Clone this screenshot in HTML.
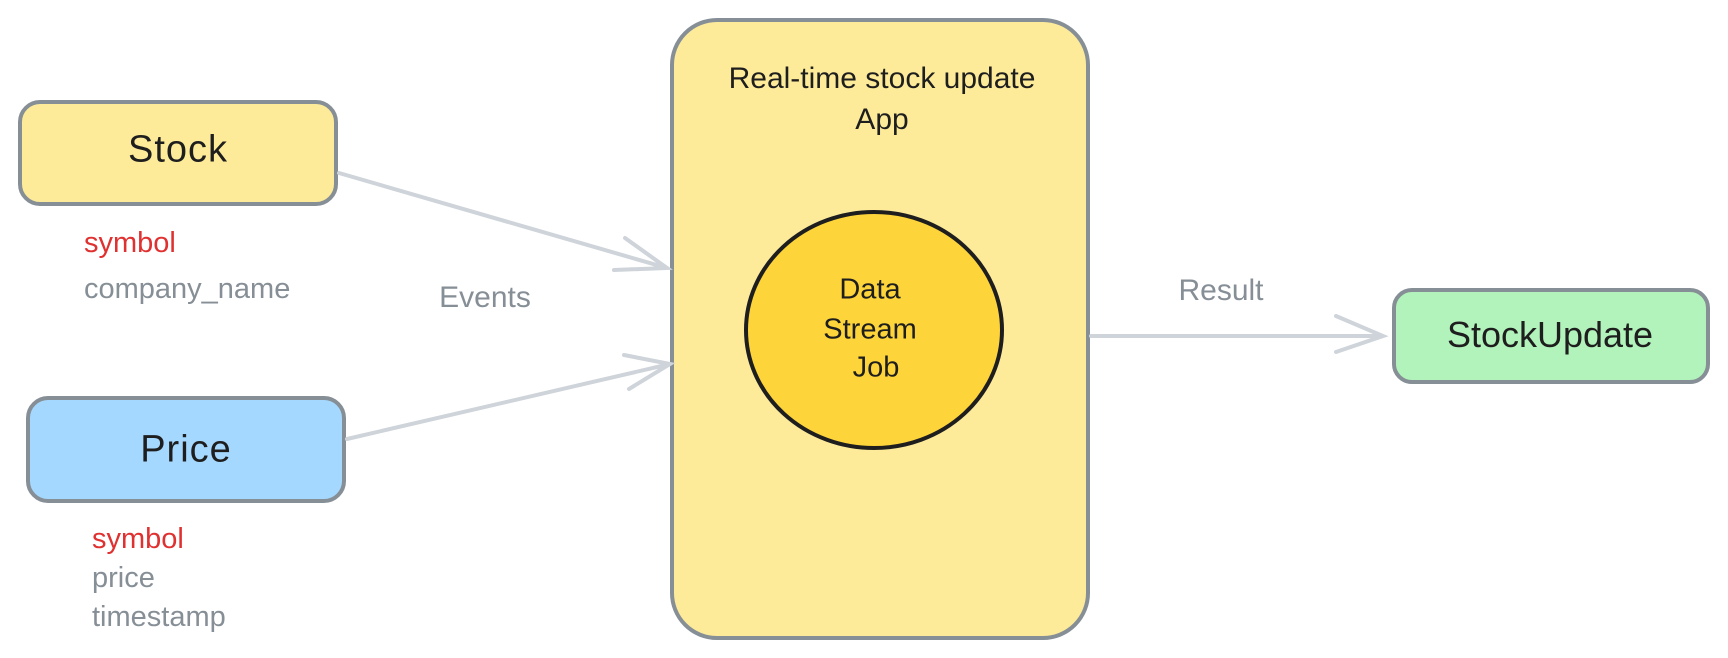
<!DOCTYPE html>
<html><head><style>
body{margin:0;width:1728px;height:658px;background:#fff;overflow:hidden;font-family:"Liberation Sans",sans-serif;}
.t{position:absolute;white-space:nowrap;transform:translate(-50%,-50%);}
</style></head><body>
<svg width="1728" height="658" style="position:absolute;left:0;top:0">
<rect x="20" y="102" width="316" height="102" rx="20" fill="#fdeb9a" stroke="#868e96" stroke-width="4"/>
<rect x="28" y="398" width="316" height="103" rx="20" fill="#a5d8ff" stroke="#868e96" stroke-width="4"/>
<rect x="672" y="20" width="416" height="618" rx="45" fill="#fdeb9a" stroke="#868e96" stroke-width="4"/>
<ellipse cx="874" cy="330" rx="128" ry="118" fill="#fdd43a" stroke="#1e1e1e" stroke-width="4"/>
<rect x="1394" y="290" width="314" height="92" rx="18" fill="#b2f2bb" stroke="#868e96" stroke-width="4"/>
<g stroke="#ced4da" stroke-width="4" fill="none" stroke-linecap="round">
<path d="M339 173 L667 268 M625 238 L667 268 L614 270"/>
<path d="M347 439 L670 364 M624 355 L670 364 L629 389"/>
<path d="M1091 336 L1383 336 M1336 316 L1383 336 L1336 352"/>
</g>
</svg>
<div class="t" style="left:178px;top:150px;font-size:38px;color:#1e1e1e;letter-spacing:1px">Stock</div>
<div class="t" style="left:186px;top:450px;font-size:38px;color:#1e1e1e;letter-spacing:1px">Price</div>
<div class="t" style="left:1550px;top:335px;font-size:36px;color:#1e1e1e">StockUpdate</div>
<div class="t" style="left:882px;top:79px;font-size:30px;color:#1e1e1e">Real-time stock update</div>
<div class="t" style="left:882px;top:120px;font-size:30px;color:#1e1e1e">App</div>
<div class="t" style="left:870px;top:290px;font-size:29px;color:#1e1e1e">Data</div>
<div class="t" style="left:870px;top:330px;font-size:29px;color:#1e1e1e">Stream</div>
<div class="t" style="left:876px;top:368px;font-size:29px;color:#1e1e1e">Job</div>
<div class="t" style="left:485px;top:298px;font-size:30px;color:#868e96">Events</div>
<div class="t" style="left:1221px;top:291px;font-size:30px;color:#868e96">Result</div>
<div style="position:absolute;left:84px;top:220px;font-size:29px;line-height:46px;"><div style="color:#e03131">symbol</div><div style="color:#868e96">company_name</div></div>
<div style="position:absolute;left:92px;top:520px;font-size:29px;line-height:39px;"><div style="color:#e03131">symbol</div><div style="color:#868e96">price</div><div style="color:#868e96">timestamp</div></div>
</body></html>
